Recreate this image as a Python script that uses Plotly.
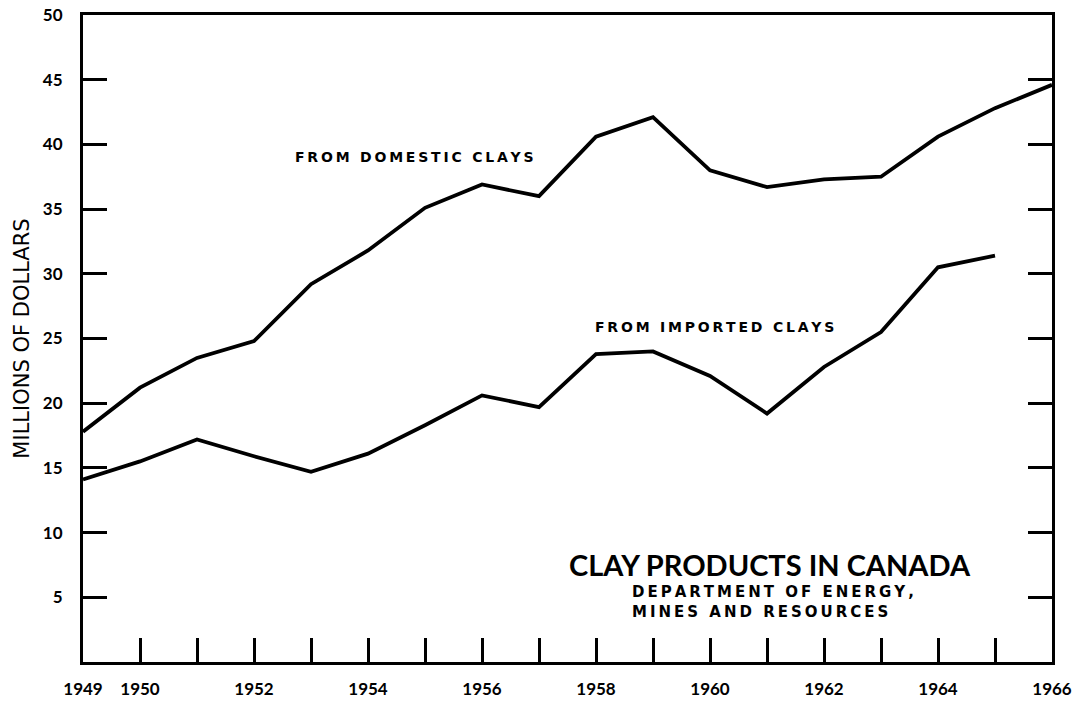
import plotly.graph_objects as go

years = list(range(1949, 1967))
domestic = [17.8, 21.2, 23.5, 24.8, 29.2, 31.8, 35.1, 36.9, 36.0, 40.6, 42.1, 38.0, 36.7, 37.3, 37.5, 40.6, 42.8, 44.6]
imported_years = list(range(1949, 1966))
imported = [14.1, 15.5, 17.2, 15.9, 14.7, 16.1, 18.3, 20.6, 19.7, 23.8, 24.0, 22.1, 19.2, 22.8, 25.5, 30.5, 31.4]

x_tickvals = list(range(1949, 1967))
x_ticktext = ["1949", "1950", "", "1952", "", "1954", "", "1956", "", "1958", "", "1960", "", "1962", "", "1964", "", "1966"]
y_tickvals = [5, 10, 15, 20, 25, 30, 35, 40, 45, 50]
y_ticktext = ["5", "10", "15", "20", "25", "30", "35", "40", "45", "50"]

label_domestic = "FROM DOMESTIC CLAYS"
label_imported = "FROM IMPORTED CLAYS"
title_text = "CLAY PRODUCTS IN CANADA"
dept_lines = ["DEPARTMENT OF ENERGY,", "MINES AND RESOURCES"]


def spaced(s, sep="\u2009"):
    return sep.join(s)


TICKFONT = "Lato"
WIDE = "DejaVu Sans"

fig = go.Figure()
fig.add_trace(go.Scatter(x=years, y=domestic, mode="lines",
                         line=dict(color="black", width=3.8), name="From domestic clays"))
fig.add_trace(go.Scatter(x=imported_years, y=imported, mode="lines",
                         line=dict(color="black", width=3.8), name="From imported clays"))

fig.update_layout(
    width=1088, height=702,
    margin=dict(l=83, r=36, t=15, b=40),
    paper_bgcolor="white", plot_bgcolor="white",
    showlegend=False,
    font=dict(family=TICKFONT, color="black"),
)
fig.update_xaxes(
    range=[1949, 1966], tickvals=x_tickvals, ticktext=x_ticktext,
    ticks="inside", ticklen=24, tickwidth=2.5, tickcolor="black",
    showline=True, linecolor="black", linewidth=3, mirror=True,
    showgrid=False, zeroline=False, automargin=False,
    tickfont=dict(family=TICKFONT, size=17, weight="bold"),
    ticklabelstandoff=10,
)
fig.update_yaxes(
    range=[0, 50], tickvals=y_tickvals, ticktext=y_ticktext,
    ticks="inside", ticklen=24, tickwidth=2.5, tickcolor="black",
    showline=True, linecolor="black", linewidth=3, mirror="ticks",
    showgrid=False, zeroline=False, automargin=False,
    tickfont=dict(family=TICKFONT, size=17, weight="bold"),
    ticklabelstandoff=14,
    title=dict(text="MILLIONS OF DOLLARS", font=dict(family=WIDE, size=21), standoff=8),
)

fig.add_annotation(x=1954.82, y=39.0, text=spaced(label_domestic), showarrow=False,
                   font=dict(family=WIDE, size=14, weight="bold"))
fig.add_annotation(x=1960.08, y=25.9, text=spaced(label_imported), showarrow=False,
                   font=dict(family=WIDE, size=14, weight="bold"))
fig.add_annotation(x=1961.06, y=7.5, text=title_text, showarrow=False,
                   font=dict(family=TICKFONT, size=29, weight="bold"))
fig.add_annotation(x=1958.6, y=4.65, xanchor="left", align="left",
                   text="<br>".join(spaced(t) for t in dept_lines), showarrow=False,
                   font=dict(family=WIDE, size=15, weight="bold"))

fig.write_html("out.html", config={"displayModeBar": False},
               post_script="document.body.style.margin='0';")
